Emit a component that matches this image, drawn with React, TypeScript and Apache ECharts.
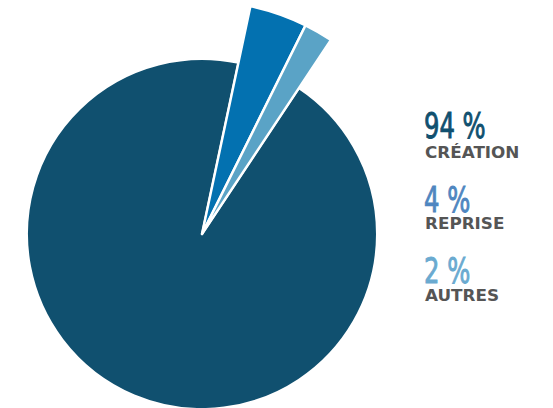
import React, { useEffect, useRef } from "react";
import * as echarts from "echarts";

const categories = ["REPRISE", "AUTRES", "CRÉATION"];
const values = [4, 2, 94];
const sliceColors = ["#0371b0", "#5aa3c6", "#10506f"];
const extended = [true, true, false];

const legendOrder = [2, 0, 1];
const legendNumberColors = ["#10506f", "#4f86c0", "#6aaad0"];

export default function App() {
  const ref = useRef<HTMLDivElement>(null);
  useEffect(() => {
    if (!ref.current) return;
    const chart = echarts.init(ref.current, null, { renderer: "svg" });
    const center = [202, 234];
    const startAngle = 78;

    const innerData = categories.map((name, i) => ({
      name,
      value: values[i],
      itemStyle: extended[i]
        ? { color: "rgba(0,0,0,0)", borderWidth: 0 }
        : { color: sliceColors[i], borderColor: "#ffffff", borderWidth: 2 },
    }));
    const outerData = categories.map((name, i) => ({
      name,
      value: values[i],
      itemStyle: extended[i]
        ? { color: sliceColors[i], borderColor: "#ffffff", borderWidth: 2.5 }
        : { color: "rgba(0,0,0,0)", borderWidth: 0 },
    }));

    const graphics: any[] = [];
    const numberTops = [108, 182, 253];
    const labelBottoms = [160.5, 231.5, 303.5];
    legendOrder.forEach((idx, k) => {
      graphics.push({
        type: "text",
        x: 424,
        y: numberTops[k],
        scaleX: 0.75,
        style: {
          text: `${values[idx]} %`,
          fontFamily: "'Liberation Sans Narrow', 'DejaVu Sans Condensed', 'DejaVu Sans', sans-serif",
          fontSize: 36,
          fill: legendNumberColors[k],
          stroke: legendNumberColors[k],
          lineWidth: 0.9,
          textAlign: "left",
          textVerticalAlign: "top",
        },
      });
      graphics.push({
        type: "text",
        x: 425,
        y: labelBottoms[k],
        scaleX: 1.12,
        style: {
          text: categories[idx],
          fontFamily: "'DejaVu Sans', sans-serif",
          fontWeight: "bold",
          fontSize: 15,
          fill: "#555555",
          textAlign: "left",
          textVerticalAlign: "bottom",
        },
      });
    });

    chart.setOption({
      animation: false,
      series: [
        {
          type: "pie",
          center,
          radius: [0, 175],
          startAngle,
          clockwise: true,
          silent: true,
          label: { show: false },
          labelLine: { show: false },
          emphasis: { disabled: true },
          data: innerData,
        },
        {
          type: "pie",
          center,
          radius: [0, 233],
          startAngle,
          clockwise: true,
          silent: true,
          label: { show: false },
          labelLine: { show: false },
          emphasis: { disabled: true },
          data: outerData,
        },
      ],
      graphic: graphics,
    });
    return () => chart.dispose();
  }, []);
  return (
    <div
      ref={ref}
      style={{ position: "fixed", left: 0, top: 0, width: 553, height: 408, background: "#ffffff" }}
    />
  );
}
